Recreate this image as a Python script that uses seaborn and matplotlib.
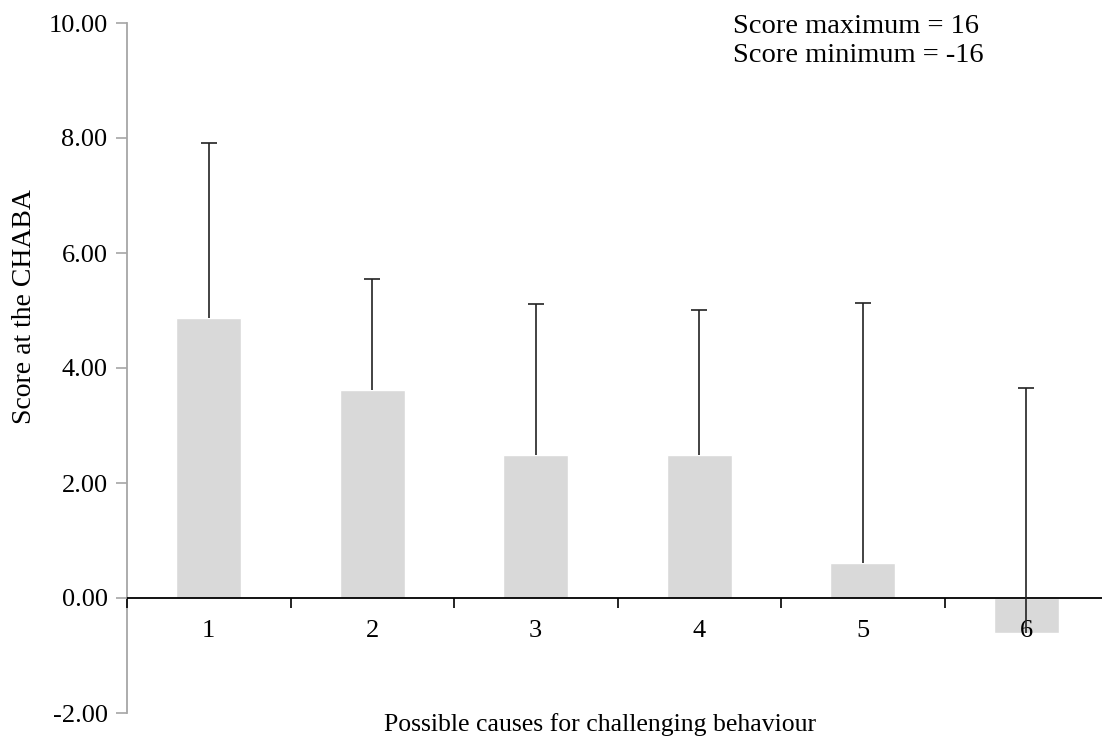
import matplotlib
matplotlib.use('Agg')
import matplotlib.pyplot as plt
import seaborn as sns
import pandas as pd
import numpy as np

causes = ['1', '2', '3', '4', '5', '6']
mean_score = [4.87, 3.62, 2.49, 2.49, 0.61, -0.61]
sd_score = [3.04, 1.93, 2.63, 2.52, 4.52, 4.26]
y_ticks = [-2, 0, 2, 4, 6, 8, 10]

sns.set_style('white')
plt.rcParams['font.family'] = ['Liberation Serif', 'DejaVu Serif']
plt.rcParams['text.color'] = 'black'
plt.rcParams['xtick.color'] = 'black'
plt.rcParams['ytick.color'] = 'black'

df = pd.DataFrame({'Cause': causes, 'Score': mean_score, 'SD': sd_score})

W, H = 1102, 739
fig = plt.figure(figsize=(W / 100, H / 100), dpi=100)
left, right, top, bottom = 127, 1108, 23, 713
ax = fig.add_axes([left / W, (H - bottom) / H, (right - left) / W, (bottom - top) / H])

sns.barplot(data=df, x='Cause', y='Score', color='#d9d9d9', saturation=1,
            width=0.4, errorbar=None, ax=ax)

# plus-only error bars, like the original
xpos = np.arange(len(causes))
eb = ax.errorbar(xpos, df['Score'], yerr=[np.zeros(len(causes)), df['SD']],
                 fmt='none', ecolor='#222222', elinewidth=1.2, capsize=6,
                 capthick=1.2, zorder=3)
eb[1][0].remove()  # drop the lower caps

ax.set_axisbelow(False)
ax.set_xlim(-0.5, len(causes) - 0.5)
ax.set_ylim(-2, 10)
ax.set_yticks(y_ticks)
ax.set_yticklabels([f'{v:.2f}' for v in y_ticks])

ax.spines['top'].set_visible(False)
ax.spines['right'].set_visible(False)
ax.spines['bottom'].set_position(('data', 0))
ax.spines['bottom'].set_color('black')
ax.spines['bottom'].set_linewidth(1.3)
ax.spines['left'].set_color('#a6a6a6')
ax.spines['left'].set_linewidth(1.3)

ax.tick_params(axis='y', which='major', direction='out', length=8, width=1.2,
               color='#a6a6a6', labelcolor='black', labelsize=19, pad=6, left=True)
ax.tick_params(axis='x', which='major', length=0, labelsize=19, pad=16,
               labelcolor='black')
ax.set_xticks(np.arange(-0.5, len(causes) + 0.5, 1), minor=True)
ax.tick_params(axis='x', which='minor', direction='out', length=7, width=1.2,
               color='black', bottom=True)

ax.set_xlabel('')
ax.set_ylabel('')
fig.text(600 / W, (H - 725) / H, 'Possible causes for challenging behaviour',
         ha='center', va='center', fontsize=18.5)
fig.text(25 / W, (H - 307) / H, 'Score at the CHABA', rotation=90,
         ha='center', va='center', fontsize=20)

fig.text(733 / W, (H - 33) / H, 'Score maximum = 16',
         ha='left', va='baseline', fontsize=20.5)
fig.text(733 / W, (H - 62) / H, 'Score minimum = -16',
         ha='left', va='baseline', fontsize=20.5)

fig.savefig('out.png', dpi=100)
